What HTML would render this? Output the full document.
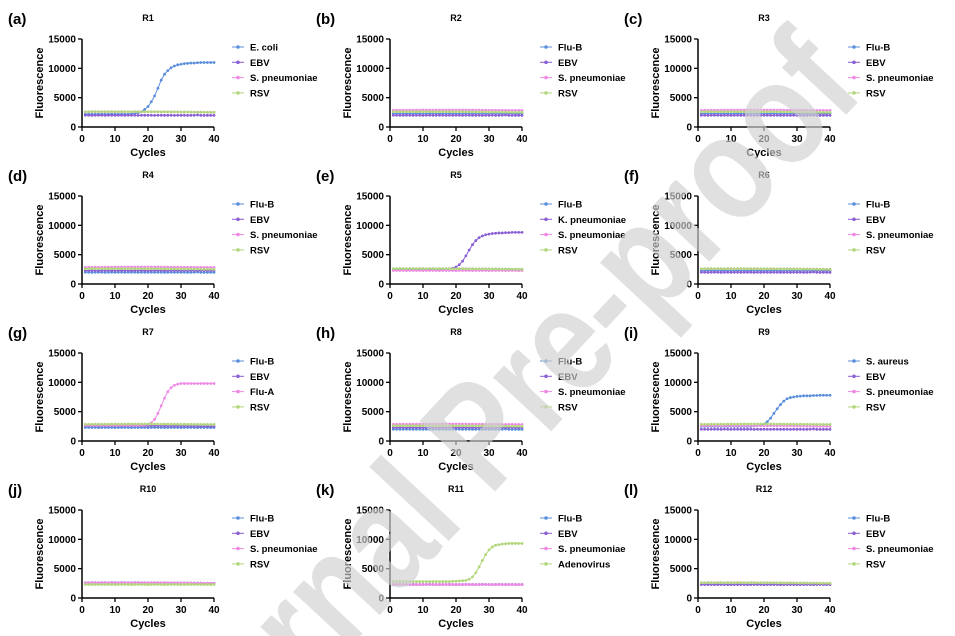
<!DOCTYPE html>
<html><head><meta charset="utf-8"><style>
html,body{margin:0;padding:0;background:#fff;overflow:hidden;width:955px;height:636px}
svg{display:block;font-family:"Liberation Sans",Arial,sans-serif;overflow:hidden}
</style></head><body>
<svg id="fig" width="955" height="636" viewBox="0 0 955 636"></svg>
<script>
const cycles = [1,2,3,4,5,6,7,8,9,10,11,12,13,14,15,16,17,18,19,20,21,22,23,24,25,26,27,28,29,30,31,32,33,34,35,36,37,38,39,40];
const yTicks = [0,5000,10000,15000];
const xTicks = [0,10,20,30,40];
const panelTitles = ["R1","R2","R3","R4","R5","R6","R7","R8","R9","R10","R11","R12"];
const panelLetters = ["(a)","(b)","(c)","(d)","(e)","(f)","(g)","(h)","(i)","(j)","(k)","(l)"];
const baseLow = [2000,2000,1980,2000,2010,2000,1990,2000,2000,1980,2000,2000,1990,2000,2010,2000,1980,2000,1990,2000,2000,1980,2000,2000,1990,1990,2000,1980,2000,1990,2000,1980,1990,2000,2050,1990,1980,1990,1990,1980];
const baseMid = [2300,2300,2310,2300,2290,2300,2310,2300,2300,2290,2300,2310,2300,2300,2290,2300,2300,2310,2300,2290,2300,2300,2310,2300,2290,2300,2300,2310,2300,2290,2300,2300,2310,2300,2290,2300,2300,2300,2290,2300];
const baseHigh = [2600,2600,2620,2610,2600,2620,2610,2600,2620,2610,2600,2620,2610,2600,2600,2620,2610,2600,2600,2590,2600,2600,2590,2580,2600,2580,2570,2580,2570,2560,2560,2550,2560,2540,2540,2530,2520,2520,2510,2500];
const baseTop = [2850,2850,2860,2870,2860,2870,2880,2870,2880,2890,2880,2890,2880,2890,2900,2890,2900,2890,2900,2900,2890,2900,2890,2880,2890,2880,2870,2880,2870,2860,2860,2850,2860,2850,2840,2840,2830,2830,2820,2820];
const ampEcoli = [2200,2200,2200,2200,2200,2200,2200,2200,2200,2200,2200,2200,2200,2200,2250,2300,2400,2600,3000,3500,4300,5300,6600,8000,9000,9600,10100,10400,10600,10700,10800,10850,10900,10900,10950,11000,11000,11000,11000,11000];
const ampKpn = [2500,2500,2500,2500,2500,2500,2500,2500,2500,2500,2500,2500,2500,2500,2500,2500,2550,2600,2700,2900,3300,3900,4800,5800,6700,7400,7900,8200,8400,8500,8600,8650,8700,8700,8750,8750,8800,8800,8800,8800];
const ampFluA = [2700,2700,2700,2700,2700,2700,2700,2700,2700,2700,2700,2700,2700,2700,2700,2700,2700,2700,2750,2850,3100,3700,4700,6000,7300,8400,9100,9500,9700,9800,9800,9800,9800,9800,9800,9800,9800,9800,9800,9800];
const ampSau = [2500,2500,2500,2500,2500,2500,2500,2500,2500,2500,2500,2500,2500,2500,2500,2500,2550,2600,2700,2900,3300,3900,4700,5500,6200,6800,7200,7400,7500,7600,7650,7700,7700,7700,7750,7750,7800,7800,7800,7800];
const ampAdeno = [2800,2800,2800,2800,2800,2800,2800,2800,2800,2800,2800,2800,2800,2800,2800,2800,2800,2800,2850,2850,2900,2950,3000,3200,3600,4300,5300,6400,7400,8200,8700,9000,9100,9200,9250,9300,9300,9300,9300,9300];
const legendNames = [
 ["E. coli","EBV","S. pneumoniae","RSV"],["Flu-B","EBV","S. pneumoniae","RSV"],["Flu-B","EBV","S. pneumoniae","RSV"],
 ["Flu-B","EBV","S. pneumoniae","RSV"],["Flu-B","K. pneumoniae","S. pneumoniae","RSV"],["Flu-B","EBV","S. pneumoniae","RSV"],
 ["Flu-B","EBV","Flu-A","RSV"],["Flu-B","EBV","S. pneumoniae","RSV"],["S. aureus","EBV","S. pneumoniae","RSV"],
 ["Flu-B","EBV","S. pneumoniae","RSV"],["Flu-B","EBV","S. pneumoniae","Adenovirus"],["Flu-B","EBV","S. pneumoniae","RSV"]];
const panelSeries = [
 [ampEcoli,baseLow,baseHigh,baseHigh],[baseMid,baseLow,baseTop,baseHigh],[baseMid,baseLow,baseTop,baseHigh],
 [baseLow,baseMid,baseTop,baseHigh],[baseHigh,ampKpn,baseMid,baseHigh],[baseMid,baseLow,baseHigh,baseHigh],
 [baseMid,baseHigh,ampFluA,baseTop],[baseLow,baseMid,baseTop,baseHigh],[ampSau,baseLow,baseHigh,baseTop],
 [baseHigh,baseHigh,baseHigh,baseMid],[baseMid,baseMid,baseMid,ampAdeno],[baseMid,baseMid,baseHigh,baseHigh]];
const colors = ["#5b8fdc","#8a5fd6","#ee8ae6","#b2d67a"];

const NS="http://www.w3.org/2000/svg";
const svg=document.getElementById('fig');
function mk(tag,attrs,parent){const e=document.createElementNS(NS,tag);for(const k in attrs)e.setAttribute(k,attrs[k]);(parent||svg).appendChild(e);return e;}
const colX=[82,390,698], rowY=[39,196,353,510], W=132, H=88;

for(let p=0;p<12;p++){
  const x0=colX[p%3], y0=rowY[Math.floor(p/3)];
  const g=mk('g',{});
  
  
  const sx=v=>x0+v/40*W, sy=v=>y0+H-v/15000*H;
  const lab=mk('text',{x:x0-74,y:y0-15,'font-size':15,'font-weight':'bold'},g);lab.textContent=panelLetters[p];
  
  
  const t=mk('text',{x:x0+W/2,y:y0-18,'font-size':9,'font-weight':'bold','text-anchor':'middle'},g);t.textContent=panelTitles[p];
  
  
  panelSeries[p].forEach((arr,si)=>{
    const sg=mk('g',{},g);
    
    
    const pts=arr.map((v,i)=>sx(cycles[i]).toFixed(1)+','+sy(v).toFixed(1)).join(' ');
    mk('polyline',{points:pts,fill:'none',stroke:colors[si],'stroke-width':1},sg);
    arr.forEach((v,i)=>{mk('circle',{cx:sx(cycles[i]),cy:sy(v),r:1.4,fill:colors[si]},sg);});
  });
  mk('path',{d:`M${x0} ${y0}V${y0+H}H${x0+W}`,fill:'none',stroke:'#000','stroke-width':1.5},g);
  yTicks.forEach(v=>{mk('line',{x1:x0-4,x2:x0,y1:sy(v),y2:sy(v),stroke:'#000','stroke-width':1.3},g);
    const tt=mk('text',{x:x0-6,y:sy(v)+3.5,'font-size':10,'font-weight':'bold','text-anchor':'end'},g);tt.textContent=v;
    
    });
  xTicks.forEach(v=>{mk('line',{x1:sx(v),x2:sx(v),y1:y0+H,y2:y0+H+4,stroke:'#000','stroke-width':1.3},g);
    const tt=mk('text',{x:sx(v),y:y0+H+15,'font-size':10,'font-weight':'bold','text-anchor':'middle'},g);tt.textContent=v;
    
    });
  const xt=mk('text',{x:x0+W/2,y:y0+H+29,'font-size':11,'font-weight':'bold','text-anchor':'middle'},g);xt.textContent='Cycles';
  
  
  const yt=mk('text',{x:0,y:0,'font-size':11,'font-weight':'bold','text-anchor':'middle',transform:`translate(${x0-39},${y0+H/2}) rotate(-90)`},g);yt.textContent='Fluorescence';
  
  
  legendNames[p].forEach((n,si)=>{
    const ly=y0+8+si*15.3;
    const lg=mk('g',{},g);
    
    
    mk('line',{x1:x0+150,x2:x0+162,y1:ly,y2:ly,stroke:colors[si],'stroke-width':1},lg);
    mk('circle',{cx:x0+156,cy:ly,r:1.8,fill:colors[si]},lg);
    const tx=mk('text',{x:x0+168,y:ly+3.5,'font-size':9.5,'font-weight':'bold'},lg);tx.textContent=n;
  });
}
const wm=mk('text',{x:0,y:0,'font-size':150,'font-weight':'bold','text-anchor':'middle',fill:'#cfcfcf','fill-opacity':0.65,transform:'translate(515,470) rotate(-47)',textLength:1030,lengthAdjust:'spacingAndGlyphs'});
wm.textContent='Journal Pre-proof';


</script>
</body></html>
